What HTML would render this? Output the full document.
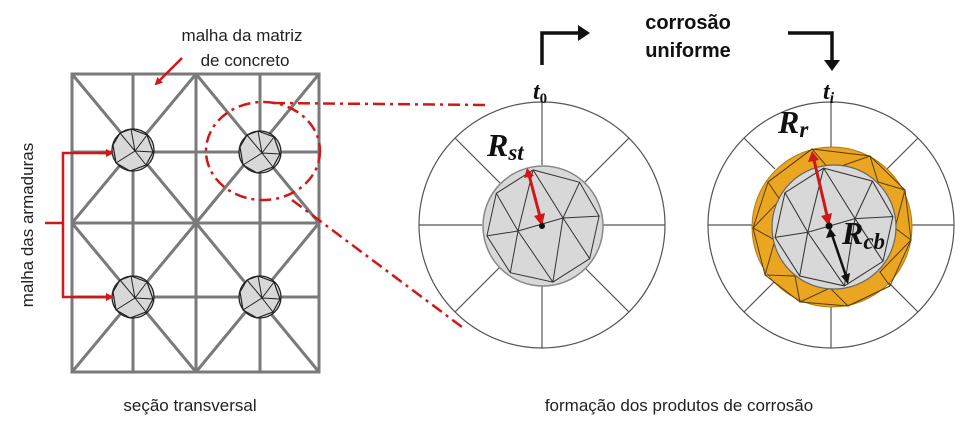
<!DOCTYPE html>
<html><head><meta charset="utf-8"><style>
html,body{margin:0;padding:0;background:#fff;}
svg{display:block;}
</style></head><body>
<svg width="968" height="421" viewBox="0 0 968 421" xmlns="http://www.w3.org/2000/svg">
<defs>
<marker id="ar" markerWidth="8" markerHeight="8" refX="6" refY="4" orient="auto" markerUnits="userSpaceOnUse"><path d="M0,0 L8,4 L0,8 z" fill="#d01818"/></marker>
<g id="rebar">
<circle r="21" fill="#d8d8d8" stroke="#222" stroke-width="1.3"/>
<polygon points="-2,-21 14,-15 20,2 13,15 -3,21 -17,13 -20,-5 -13,-17" fill="none" stroke="#222" stroke-width="1.2"/>
<path d="M2,1 L-2,-21 M2,1 L20,2 M2,1 L13,15 M2,1 L-17,13 M2,1 L-13,-17 M2,1 L14,-15" stroke="#222" stroke-width="1"/>
</g>
<g id="mesh" stroke="#333" stroke-width="1" fill="none">
<polygon points="-9.9,-56.1 36.6,-43.7 56.1,-9.9 46.7,32.7 9.9,56.1 -32.7,46.7 -56.1,9.9 -46.7,-32.7"/>
<path d="M-25,5 L-56.1,9.9 M-25,5 L-46.7,-32.7 M-25,5 L-9.9,-56.1 M-25,5 L-32.7,46.7 M-25,5 L9.9,56.1 M20,-8 L-9.9,-56.1 M20,-8 L36.6,-43.7 M20,-8 L56.1,-9.9 M20,-8 L46.7,32.7 M20,-8 L9.9,56.1 M-25,5 L20,-8"/>
</g>
</defs>

<!-- left grid -->
<g stroke="#7a7a7a" stroke-width="3" fill="none">
<rect x="72" y="74" width="247" height="298"/>
<line x1="133" y1="74" x2="133" y2="372"/>
<line x1="196" y1="74" x2="196" y2="372"/>
<line x1="260" y1="74" x2="260" y2="372"/>
<line x1="72" y1="152" x2="319" y2="152"/>
<line x1="72" y1="223" x2="319" y2="223"/>
<line x1="72" y1="297" x2="319" y2="297"/>
<line x1="72" y1="74" x2="196" y2="223"/>
<line x1="196" y1="74" x2="72" y2="223"/>
<line x1="196" y1="74" x2="319" y2="223"/>
<line x1="319" y1="74" x2="196" y2="223"/>
<line x1="72" y1="223" x2="196" y2="372"/>
<line x1="196" y1="223" x2="72" y2="372"/>
<line x1="196" y1="223" x2="319" y2="372"/>
<line x1="319" y1="223" x2="196" y2="372"/>
</g>
<use href="#rebar" x="133" y="150"/>
<use href="#rebar" x="260" y="152"/>
<use href="#rebar" x="133" y="297"/>
<use href="#rebar" x="260" y="297"/>

<!-- red annotations left -->
<g stroke="#d01818" stroke-width="2.5" fill="none">
<line x1="182" y1="58" x2="156" y2="84" marker-end="url(#ar)"/>
<polyline points="45,223 63,223"/>
<polyline points="112,153 63,153 63,297 112,297"/>
<line x1="100" y1="153" x2="112" y2="153" marker-end="url(#ar)"/>
<line x1="100" y1="297" x2="112" y2="297" marker-end="url(#ar)"/>
<ellipse cx="263" cy="151" rx="57" ry="49" stroke-dasharray="12,5,3,5"/>
<line x1="273" y1="103" x2="488" y2="105" stroke-dasharray="12,5,3,5"/>
<line x1="292" y1="200" x2="462" y2="327" stroke-dasharray="12,5,3,5"/>
</g>

<g font-family="Liberation Sans, sans-serif" font-size="17" fill="#222" text-anchor="middle">
<text x="242" y="41">malha da matriz</text>
<text x="245" y="66">de concreto</text>
<text x="190" y="411">seção transversal</text>
<text x="679" y="411">formação dos produtos de corrosão</text>
<text transform="translate(33,225) rotate(-90)">malha das armaduras</text>
</g>

<!-- top arrows -->
<g stroke="#111" stroke-width="3.5" fill="none">
<polyline points="542,65 542,33 580,33"/>
<polyline points="788,33 832,33 832,62"/>
</g>
<path d="M578,25 L590,33 L578,41 z" fill="#111"/>
<path d="M824,60 L832,71 L840,60 z" fill="#111"/>
<g font-family="Liberation Sans, sans-serif" font-size="20" font-weight="bold" fill="#111" text-anchor="middle">
<text x="688" y="29">corrosão</text>
<text x="688" y="57">uniforme</text>
</g>

<!-- left circle t0 -->
<g stroke="#555" stroke-width="1.2" fill="none">
<circle cx="542" cy="225" r="123"/>
<line x1="542" y1="102" x2="542" y2="165"/>
<line x1="542" y1="285" x2="542" y2="348"/>
<line x1="419" y1="225" x2="482" y2="225"/>
<line x1="602" y1="225" x2="665" y2="225"/>
<line x1="500" y1="183" x2="455" y2="138"/>
<line x1="584" y1="183" x2="629" y2="138"/>
<line x1="500" y1="267" x2="455" y2="312"/>
<line x1="584" y1="267" x2="629" y2="312"/>
</g>
<circle cx="543" cy="226" r="60" fill="#d8d8d8" stroke="#888" stroke-width="1.5"/>
<use href="#mesh" x="543" y="226"/>
<line x1="542" y1="224" x2="529" y2="175" stroke="#d01818" stroke-width="3"/>
<path d="M524,178 L527,168 L534,176 z" fill="#d01818"/>
<path d="M534,216 L542,226 L545,213 z" fill="#d01818"/>
<circle cx="542" cy="226" r="3" fill="#111"/>

<!-- right circle ti -->
<g stroke="#555" stroke-width="1.2" fill="none">
<circle cx="831" cy="225" r="123"/>
<line x1="831" y1="102" x2="831" y2="148"/>
<line x1="831" y1="305" x2="831" y2="348"/>
<line x1="708" y1="225" x2="752" y2="225"/>
<line x1="912" y1="225" x2="954" y2="225"/>
<line x1="775" y1="169" x2="744" y2="138"/>
<line x1="887" y1="169" x2="918" y2="138"/>
<line x1="775" y1="281" x2="744" y2="312"/>
<line x1="887" y1="281" x2="918" y2="312"/>
</g>
<circle cx="832" cy="227" r="80" fill="#eaa521" stroke="#b07a10" stroke-width="1"/>
<g stroke="#5a3e0a" stroke-width="1" fill="none">
<polygon points="812,149 870,156 905,190 911,240 890,286 848,306 800,302 765,275 753,228 768,182"/>
<path d="M812,149 L830,170 L870,156 L878,182 L905,190 L895,228 L911,240 L880,272 L890,286 L848,306 L830,288 L800,302 L795,276 L765,275 L775,240 L753,228 L780,200 L768,182 L812,149"/>
</g>
<circle cx="834" cy="227" r="62" fill="#d8d8d8" stroke="#666" stroke-width="1.2"/>
<use href="#mesh" x="834" y="227" transform="translate(834,227) scale(1.05) translate(-834,-227)"/>
<line x1="829" y1="224" x2="814" y2="160" stroke="#d01818" stroke-width="3"/>
<path d="M808,162 L812,151 L819,160 z" fill="#d01818"/>
<path d="M821,216 L829,226 L832,213 z" fill="#d01818"/>
<line x1="831" y1="232" x2="846" y2="276" stroke="#111" stroke-width="2.5"/>
<path d="M826,238 L830,228 L836,236 z" fill="#111"/>
<path d="M841,276 L848,284 L850,273 z" fill="#111"/>
<circle cx="829" cy="226" r="3.5" fill="#111"/>

<!-- math labels on top -->
<g font-family="Liberation Serif, serif" font-weight="bold" font-style="italic" fill="#111">
<text x="533" y="99" font-size="24">t<tspan font-size="15" font-style="normal" dy="4">0</tspan></text>
<text x="823" y="99" font-size="24">t<tspan font-size="16" dy="4">i</tspan></text>
<text x="487" y="156" font-size="32">R<tspan font-size="23" dy="4">st</tspan></text>
<text x="778" y="133" font-size="32">R<tspan font-size="23" dy="4">r</tspan></text>
<text x="842" y="244" font-size="32">R<tspan font-size="23" dy="5">cb</tspan></text>
</g>
</svg>
</body></html>
